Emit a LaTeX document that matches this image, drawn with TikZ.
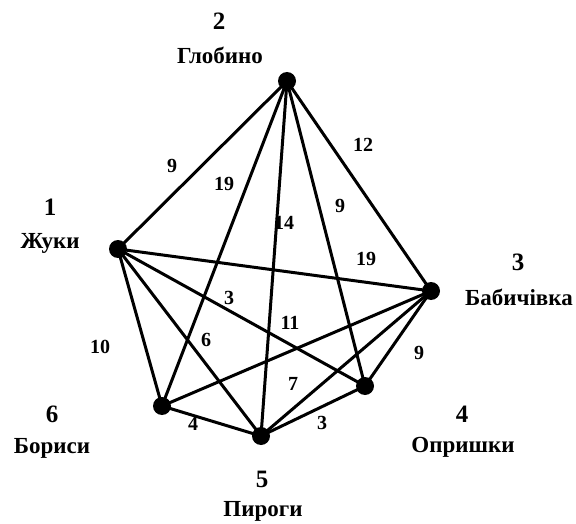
\documentclass[tikz,border=0pt]{standalone}
\usepackage{fontspec}
\setmainfont{Liberation Serif}
\begin{document}
\begin{tikzpicture}[x=1pt,y=-1pt,
  vert/.style={circle,fill=black,inner sep=0pt,minimum size=18pt},
  link/.style={line width=3pt},
  vnum/.style={font=\fontsize{25}{27}\selectfont\bfseries,inner sep=0pt},
  vlabel/.style={font=\fontsize{23}{25}\selectfont\bfseries,inner sep=0pt},
  wt/.style={font=\fontsize{20}{22}\selectfont\bfseries,inner sep=0pt}]
\useasboundingbox (0,0) rectangle (576,524);
\node[vert] (v1) at (118,249) {};
\node[vert] (v2) at (287,81) {};
\node[vert] (v3) at (431,291) {};
\node[vert] (v4) at (365,386) {};
\node[vert] (v5) at (261,436) {};
\node[vert] (v6) at (162,406) {};
\foreach \a/\b in {v2/v1,v2/v6,v2/v5,v2/v4,v2/v3,v1/v3,v1/v4,v1/v5,v1/v6,v6/v3,v5/v3,v4/v3,v6/v5,v5/v4}
  \draw[link] (\a.center) -- (\b.center);
\node[vnum] (n2) at (219,21) {2};
\node[vlabel] (t2) at (220,55) {Глобино};
\node[vnum] (n1) at (50,207) {1};
\node[vlabel] (t1) at (50,243) {Жуки};
\node[vnum] (n3) at (518,262) {3};
\node[vlabel] (t3) at (519,297) {Бабичівка};
\node[vnum] (n4) at (462,414) {4};
\node[vlabel] (t4) at (463,447) {Опришки};
\node[vnum] (n5) at (262,479) {5};
\node[vlabel] (t5) at (263,511) {Пироги};
\node[vnum] (n6) at (52,414) {6};
\node[vlabel] (t6) at (52,448) {Бориси};
\node[wt] (w21) at (172,166) {9};
\node[wt] (w26) at (224,184) {19};
\node[wt] (w25) at (284,223) {14};
\node[wt] (w24) at (340,206) {9};
\node[wt] (w23) at (363,145) {12};
\node[wt] (w13) at (366,259) {19};
\node[wt] (w14) at (229,298) {3};
\node[wt] (w63) at (290,323) {11};
\node[wt] (w15) at (206,340) {6};
\node[wt] (w16) at (100,347) {10};
\node[wt] (w43) at (419,353) {9};
\node[wt] (w53) at (293,384) {7};
\node[wt] (w65) at (193,424) {4};
\node[wt] (w54) at (322,423) {3};
\end{tikzpicture}
\end{document}
